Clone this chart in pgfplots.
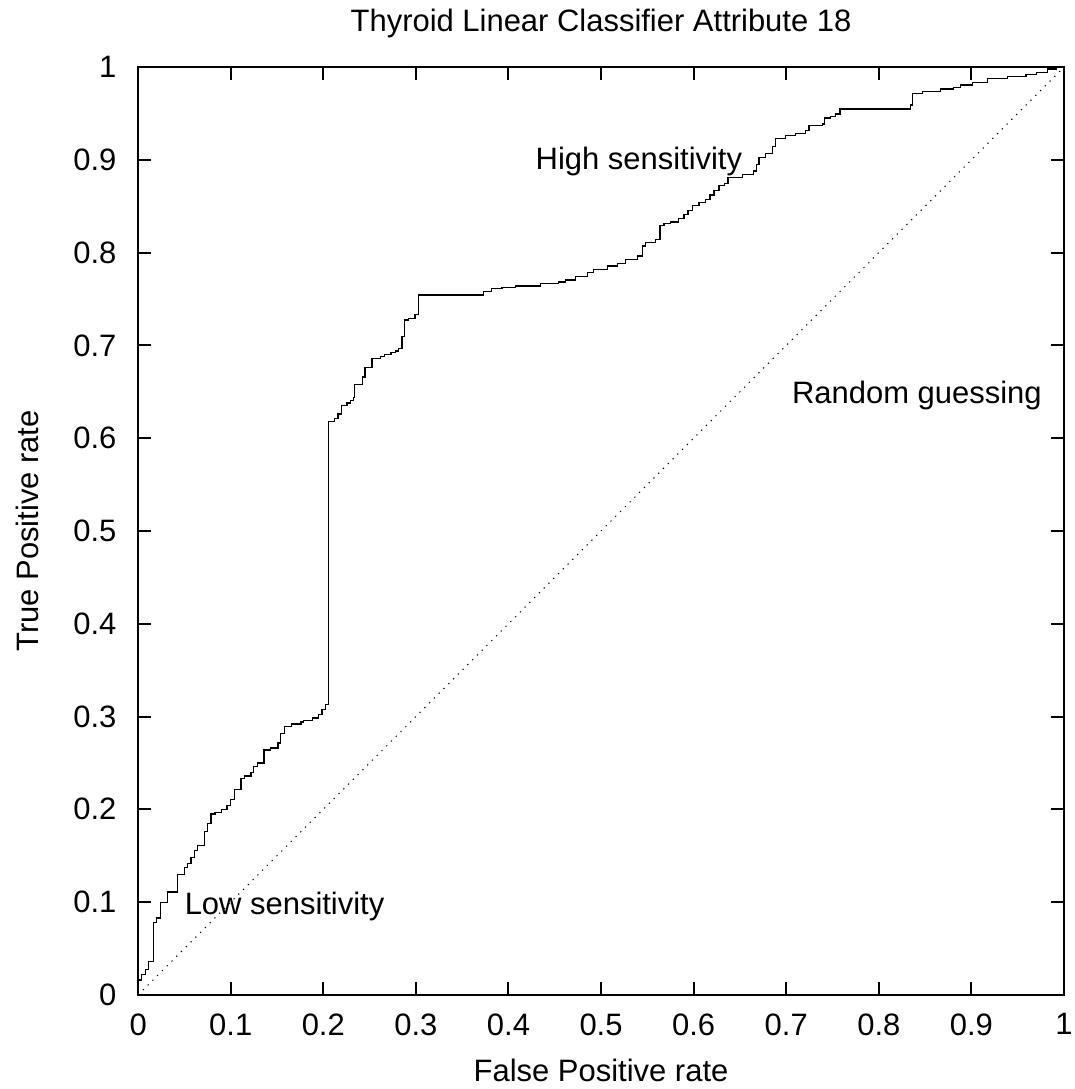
\documentclass[border=0pt]{standalone}
\usepackage{fontspec}
\setmainfont{Liberation Sans}
\usepackage{pgfplots}
\pgfplotsset{compat=1.18}
\begin{document}
\fontsize{17.6}{21}\selectfont
\begin{tikzpicture}[font=\fontsize{17.6}{21}\selectfont]
\begin{axis}[
  name=ax,
  scale only axis,
  width=185mm, height=185.4mm,
  xmin=0, xmax=1, ymin=0, ymax=1,
  xtick={0,0.1,...,1.01}, ytick={0,0.1,...,1.01},
  xticklabels={0,0.1,0.2,0.3,0.4,0.5,0.6,0.7,0.8,0.9,1},
  yticklabels={0,0.1,0.2,0.3,0.4,0.5,0.6,0.7,0.8,0.9,1},
  tick align=inside, major tick length=2.6mm,
  tick style={line width=0.4mm, black},
  axis line style={line width=0.4mm},
  /pgf/number format/assume math mode=true,
  every tick label/.append style={font=\fontsize{17.6}{21}\selectfont},
  xticklabel style={yshift=-1.6mm},
  yticklabel style={xshift=-2.2mm},
  title={Thyroid Linear Classifier Attribute 18},
  title style={font=\fontsize{17.6}{21}\selectfont, yshift=1.5mm},
  xlabel={False Positive rate},
  ylabel={True Positive rate},
  label style={font=\fontsize{17.6}{21}\selectfont},
  xlabel style={yshift=-0.5mm},
  ylabel style={yshift=2.8mm},
  clip=true,
]
\addplot[black, line width=0.2mm, dash pattern=on 0.25mm off 1.1mm] coordinates {(0,0) (1,1)};
\addplot[const plot, black, line width=0.25mm] coordinates {
(0,0) (0,0.016) (0.004,0.022) (0.008,0.027) (0.011,0.036)
(0.017,0.078) (0.020,0.083) (0.0245,0.100) (0.032,0.111) (0.0425,0.130)
(0.050,0.137) (0.053,0.142) (0.057,0.148) (0.0605,0.156) (0.064,0.161)
(0.0714,0.176) (0.075,0.185) (0.0786,0.195) (0.083,0.197) (0.090,0.200)
(0.096,0.204) (0.100,0.211) (0.104,0.221) (0.111,0.233) (0.115,0.236)
(0.122,0.240) (0.125,0.246) (0.129,0.250) (0.136,0.264) (0.143,0.266)
(0.151,0.2715) (0.154,0.282) (0.158,0.289) (0.166,0.292) (0.176,0.294)
(0.179,0.296) (0.188,0.2985) (0.195,0.302) (0.1986,0.3075) (0.202,0.313)
(0.2055,0.618) (0.212,0.621) (0.216,0.626) (0.220,0.635) (0.2256,0.638)
(0.229,0.641) (0.233,0.644) (0.234,0.658) (0.242,0.666) (0.245,0.676)
(0.2526,0.686) (0.262,0.688) (0.266,0.690) (0.273,0.692) (0.278,0.694)
(0.281,0.697) (0.285,0.7095) (0.2876,0.7275) (0.292,0.729) (0.299,0.733)
(0.303,0.7544) (0.3716,0.7544) (0.373,0.758) (0.382,0.761) (0.393,0.7627)
(0.4075,0.764) (0.4346,0.7667) (0.4544,0.7684) (0.4616,0.7706) (0.4724,0.774)
(0.485,0.7785) (0.492,0.782) (0.5068,0.7857) (0.5175,0.7886) (0.5265,0.7929)
(0.539,0.7964) (0.5445,0.8072) (0.548,0.811) (0.559,0.8144) (0.5636,0.829)
(0.568,0.8314) (0.575,0.833) (0.584,0.8368) (0.5895,0.8407) (0.594,0.845)
(0.5985,0.8504) (0.6057,0.854) (0.613,0.8576) (0.6176,0.862) (0.622,0.8666)
(0.6274,0.872) (0.633,0.8746) (0.637,0.881) (0.6526,0.8846) (0.665,0.888)
(0.668,0.895) (0.6706,0.9026) (0.678,0.9069) (0.685,0.914) (0.6886,0.9234)
(0.6995,0.926) (0.7103,0.9285) (0.721,0.9313) (0.7247,0.9367) (0.739,0.9385)
(0.741,0.945) (0.748,0.9464) (0.7535,0.9493) (0.758,0.9547) (0.8328,0.9547)
(0.834,0.959) (0.8364,0.9716) (0.847,0.9734) (0.867,0.9763) (0.881,0.978)
(0.8886,0.9806) (0.901,0.9835) (0.9175,0.9878) (0.939,0.9896) (0.9589,0.9917)
(0.970,0.9943) (0.982,0.998) (0.9914,1.0) (1,1)
};
\node[anchor=west, inner sep=0pt] at (axis cs:0.05,0.095) {Low sensitivity};
\node[anchor=west, inner sep=0pt] at (axis cs:0.429,0.898) {High sensitivity};
\node[anchor=west, inner sep=0pt] at (axis cs:0.706,0.646) {Random guessing};
\end{axis}
\pgfresetboundingbox
\path ([shift={(-27.6mm,-18.8mm)}]ax.south west) rectangle ([shift={(2.2mm,13.4mm)}]ax.north east);
\end{tikzpicture}
\end{document}
